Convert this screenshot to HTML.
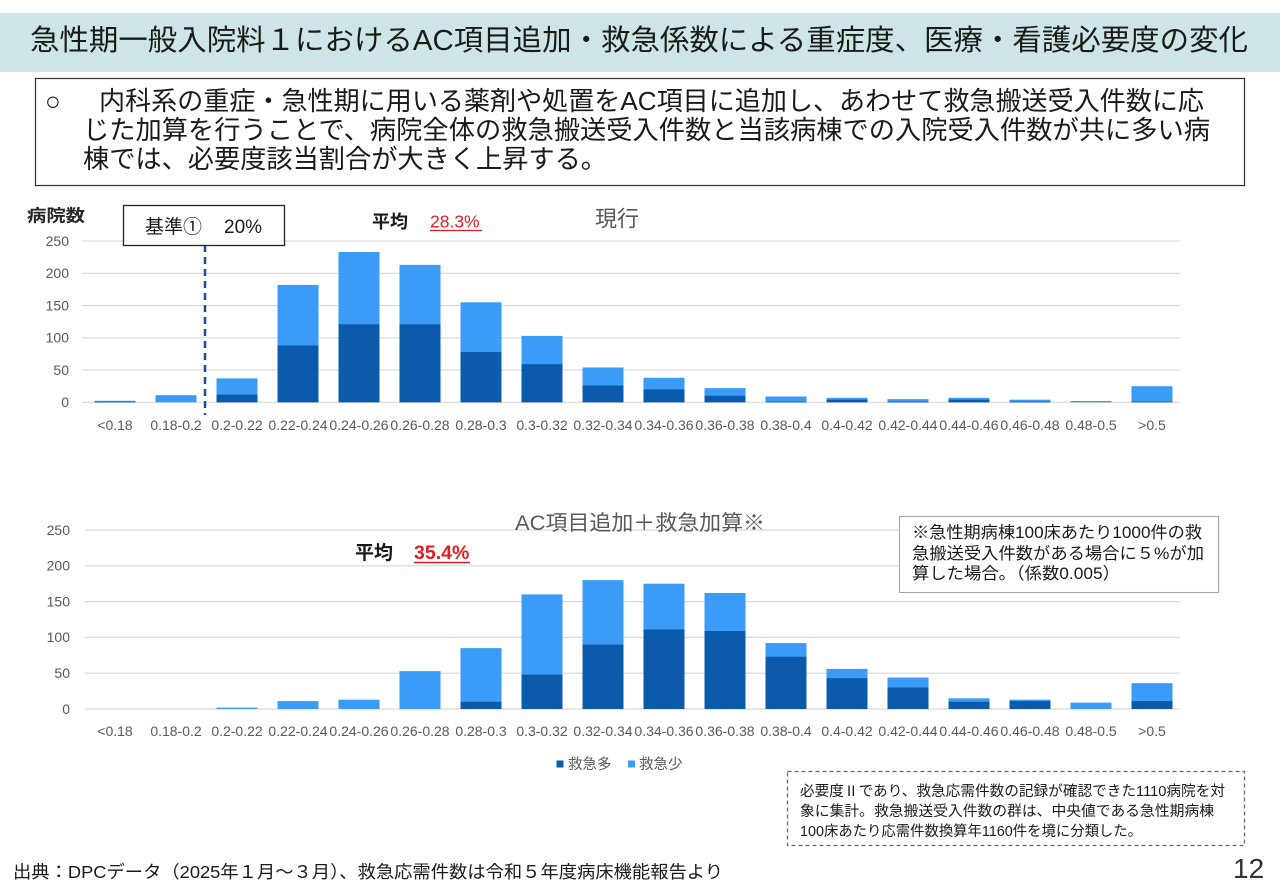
<!DOCTYPE html>
<html>
<head>
<meta charset="utf-8">
<style>
html,body{margin:0;padding:0;background:#fff;}
body{width:1280px;height:894px;overflow:hidden;}
svg{display:block;}
.jp{font-family:"Liberation Sans","Noto Sans CJK JP",sans-serif;}
.ax{font-family:"Liberation Sans","Noto Sans CJK JP",sans-serif;font-size:14px;fill:#595959;}
</style>
</head>
<body>
<svg width="1280" height="894" viewBox="0 0 1280 894" xmlns="http://www.w3.org/2000/svg">
  <!-- title band -->
  <rect x="0" y="13" width="1280" height="59" fill="#cde5e6"/>
  <text class="jp" x="30" y="50" font-size="29" fill="#1a1a1a" textLength="1218" lengthAdjust="spacingAndGlyphs">急性期一般入院料１におけるAC項目追加・救急係数による重症度、医療・看護必要度の変化</text>

  <!-- summary box -->
  <rect x="35.5" y="78.5" width="1209" height="107" fill="#fff" stroke="#333" stroke-width="1.2"/>
  <text class="jp" x="45" y="110" font-size="26" fill="#1a1a1a">○</text>
  <text class="jp" x="99" y="110" font-size="26" fill="#1a1a1a" textLength="1105" lengthAdjust="spacingAndGlyphs">内科系の重症・急性期に用いる薬剤や処置をAC項目に追加し、あわせて救急搬送受入件数に応</text>
  <text class="jp" x="83" y="139" font-size="26" fill="#1a1a1a" textLength="1127" lengthAdjust="spacingAndGlyphs">じた加算を行うことで、病院全体の救急搬送受入件数と当該病棟での入院受入件数が共に多い病</text>
  <text class="jp" x="83" y="168" font-size="26" fill="#1a1a1a" textLength="524" lengthAdjust="spacingAndGlyphs">棟では、必要度該当割合が大きく上昇する。</text>

  <!-- ===== TOP CHART ===== -->
  <g stroke="#d9d9d9" stroke-width="1.2">
    <line x1="82" y1="241.05" x2="1180" y2="241.05"/>
    <line x1="82" y1="273.3" x2="1180" y2="273.3"/>
    <line x1="82" y1="305.55" x2="1180" y2="305.55"/>
    <line x1="82" y1="337.8" x2="1180" y2="337.8"/>
    <line x1="82" y1="370.05" x2="1180" y2="370.05"/>
    <line x1="82" y1="402.3" x2="1180" y2="402.3"/>
  </g>
  <g class="ax" text-anchor="end">
    <text x="69" y="246">250</text>
    <text x="69" y="278">200</text>
    <text x="69" y="310.5">150</text>
    <text x="69" y="342.7">100</text>
    <text x="69" y="375">50</text>
    <text x="69" y="407.2">0</text>
  </g>
  <g transform="translate(0,402.3) scale(1,-1)">
    <g fill="#3b9cf7">
      <rect x="94.5" y="0" width="41" height="1.5"/>
      <rect x="155.5" y="0" width="41" height="7.1"/>
      <rect x="216.5" y="0" width="41" height="23.9"/>
      <rect x="277.5" y="0" width="41" height="117.4"/>
      <rect x="338.5" y="0" width="41" height="150.3"/>
      <rect x="399.5" y="0" width="41" height="137.4"/>
      <rect x="460.5" y="0" width="41" height="100.0"/>
      <rect x="521.5" y="0" width="41" height="66.4"/>
      <rect x="582.5" y="0" width="41" height="34.8"/>
      <rect x="643.5" y="0" width="41" height="24.5"/>
      <rect x="704.5" y="0" width="41" height="14.2"/>
      <rect x="765.5" y="0" width="41" height="5.8"/>
      <rect x="826.5" y="0" width="41" height="4.5"/>
      <rect x="887.5" y="0" width="41" height="3.2"/>
      <rect x="948.5" y="0" width="41" height="4.5"/>
      <rect x="1009.5" y="0" width="41" height="2.6"/>
      <rect x="1070.5" y="0" width="41" height="1.3"/>
      <rect x="1131.5" y="0" width="41" height="16.1"/>
    </g>
    <g fill="#0b5aab">
      <rect x="94.5" y="0" width="41" height="0.7"/>
      <rect x="216.5" y="0" width="41" height="7.7"/>
      <rect x="277.5" y="0" width="41" height="56.8"/>
      <rect x="338.5" y="0" width="41" height="78.0"/>
      <rect x="399.5" y="0" width="41" height="78.0"/>
      <rect x="460.5" y="0" width="41" height="50.3"/>
      <rect x="521.5" y="0" width="41" height="38.1"/>
      <rect x="582.5" y="0" width="41" height="16.8"/>
      <rect x="643.5" y="0" width="41" height="12.9"/>
      <rect x="704.5" y="0" width="41" height="6.5"/>
      <rect x="765.5" y="0" width="41" height="0.7"/>
      <rect x="826.5" y="0" width="41" height="2.6"/>
      <rect x="887.5" y="0" width="41" height="0.7"/>
      <rect x="948.5" y="0" width="41" height="2.6"/>
      <rect x="1009.5" y="0" width="41" height="0.7"/>
      <rect x="1131.5" y="0" width="41" height="0.7"/>
    </g>
  </g>
  <g class="ax" text-anchor="middle">
    <text x="115" y="430">&lt;0.18</text>
    <text x="176" y="430">0.18-0.2</text>
    <text x="237" y="430">0.2-0.22</text>
    <text x="298" y="430">0.22-0.24</text>
    <text x="359" y="430">0.24-0.26</text>
    <text x="420" y="430">0.26-0.28</text>
    <text x="481" y="430">0.28-0.3</text>
    <text x="542" y="430">0.3-0.32</text>
    <text x="603" y="430">0.32-0.34</text>
    <text x="664" y="430">0.34-0.36</text>
    <text x="725" y="430">0.36-0.38</text>
    <text x="786" y="430">0.38-0.4</text>
    <text x="847" y="430">0.4-0.42</text>
    <text x="908" y="430">0.42-0.44</text>
    <text x="969" y="430">0.44-0.46</text>
    <text x="1030" y="430">0.46-0.48</text>
    <text x="1091" y="430">0.48-0.5</text>
    <text x="1152" y="430">&gt;0.5</text>
  </g>
  <!-- dashed reference line -->
  <line x1="205" y1="245" x2="205" y2="415" stroke="#1f4e8c" stroke-width="2.5" stroke-dasharray="7,5"/>
  <!-- 基準 box -->
  <rect x="123.5" y="205.5" width="161" height="40" fill="#fff" stroke="#222" stroke-width="1.3"/>
  <text class="jp" x="145" y="233" font-size="19" fill="#1a1a1a">基準①</text>
  <text x="224" y="233" font-size="19" fill="#1a1a1a" font-family="Liberation Sans, sans-serif">20%</text>
  <!-- axis title -->
  <text class="jp" x="27" y="221.5" font-size="17" font-weight="bold" fill="#262626" textLength="58" lengthAdjust="spacingAndGlyphs">病院数</text>
  <!-- 平均 top -->
  <text class="jp" x="372" y="228" font-size="18" font-weight="bold" fill="#1a1a1a">平均</text>
  <text x="430" y="227.5" font-size="17.5" fill="#e31b23" font-family="Liberation Sans, sans-serif">28.3%</text>
  <line x1="430" y1="230.5" x2="482" y2="230.5" stroke="#e31b23" stroke-width="1.2"/>
  <!-- 現行 -->
  <text class="jp" x="595" y="226.5" font-size="22" fill="#595959">現行</text>

  <!-- ===== BOTTOM CHART ===== -->
  <g stroke="#d9d9d9" stroke-width="1.2">
    <line x1="85" y1="530" x2="1180" y2="530"/>
    <line x1="85" y1="565.8" x2="1180" y2="565.8"/>
    <line x1="85" y1="601.6" x2="1180" y2="601.6"/>
    <line x1="85" y1="637.4" x2="1180" y2="637.4"/>
    <line x1="85" y1="673.2" x2="1180" y2="673.2"/>
    <line x1="85" y1="709" x2="1180" y2="709"/>
  </g>
  <g class="ax" text-anchor="end">
    <text x="70" y="534.8">250</text>
    <text x="70" y="570.6">200</text>
    <text x="70" y="606.4">150</text>
    <text x="70" y="642.2">100</text>
    <text x="70" y="678">50</text>
    <text x="70" y="713.8">0</text>
  </g>
  <g transform="translate(0,709) scale(1,-1)">
    <g fill="#3b9cf7">
      <rect x="216.5" y="0" width="41" height="1.4"/>
      <rect x="277.5" y="0" width="41" height="7.9"/>
      <rect x="338.5" y="0" width="41" height="9.3"/>
      <rect x="399.5" y="0" width="41" height="37.9"/>
      <rect x="460.5" y="0" width="41" height="60.9"/>
      <rect x="521.5" y="0" width="41" height="114.6"/>
      <rect x="582.5" y="0" width="41" height="128.9"/>
      <rect x="643.5" y="0" width="41" height="125.3"/>
      <rect x="704.5" y="0" width="41" height="116.0"/>
      <rect x="765.5" y="0" width="41" height="65.9"/>
      <rect x="826.5" y="0" width="41" height="40.1"/>
      <rect x="887.5" y="0" width="41" height="31.5"/>
      <rect x="948.5" y="0" width="41" height="10.7"/>
      <rect x="1009.5" y="0" width="41" height="9.3"/>
      <rect x="1070.5" y="0" width="41" height="6.4"/>
      <rect x="1131.5" y="0" width="41" height="25.8"/>
    </g>
    <g fill="#0b5aab">
      <rect x="460.5" y="0" width="41" height="7.2"/>
      <rect x="521.5" y="0" width="41" height="34.4"/>
      <rect x="582.5" y="0" width="41" height="64.4"/>
      <rect x="643.5" y="0" width="41" height="79.5"/>
      <rect x="704.5" y="0" width="41" height="78.0"/>
      <rect x="765.5" y="0" width="41" height="52.3"/>
      <rect x="826.5" y="0" width="41" height="30.8"/>
      <rect x="887.5" y="0" width="41" height="21.5"/>
      <rect x="948.5" y="0" width="41" height="7.2"/>
      <rect x="1009.5" y="0" width="41" height="7.9"/>
      <rect x="1131.5" y="0" width="41" height="7.9"/>
    </g>
  </g>
  <g class="ax" text-anchor="middle">
    <text x="115" y="736">&lt;0.18</text>
    <text x="176" y="736">0.18-0.2</text>
    <text x="237" y="736">0.2-0.22</text>
    <text x="298" y="736">0.22-0.24</text>
    <text x="359" y="736">0.24-0.26</text>
    <text x="420" y="736">0.26-0.28</text>
    <text x="481" y="736">0.28-0.3</text>
    <text x="542" y="736">0.3-0.32</text>
    <text x="603" y="736">0.32-0.34</text>
    <text x="664" y="736">0.34-0.36</text>
    <text x="725" y="736">0.36-0.38</text>
    <text x="786" y="736">0.38-0.4</text>
    <text x="847" y="736">0.4-0.42</text>
    <text x="908" y="736">0.42-0.44</text>
    <text x="969" y="736">0.44-0.46</text>
    <text x="1030" y="736">0.46-0.48</text>
    <text x="1091" y="736">0.48-0.5</text>
    <text x="1152" y="736">&gt;0.5</text>
  </g>
  <!-- bottom title -->
  <text class="jp" x="515" y="530" font-size="21" fill="#595959" textLength="250" lengthAdjust="spacingAndGlyphs">AC項目追加＋救急加算※</text>
  <!-- 平均 bottom -->
  <text class="jp" x="355" y="559" font-size="19" font-weight="bold" fill="#1a1a1a">平均</text>
  <text x="414" y="559" font-size="19.5" font-weight="bold" fill="#e31b23" font-family="Liberation Sans, sans-serif">35.4%</text>
  <line x1="414" y1="562.5" x2="470" y2="562.5" stroke="#e31b23" stroke-width="1.6"/>
  <!-- annotation box -->
  <rect x="899.5" y="516.5" width="319" height="76" fill="#fff" stroke="#a6a6a6" stroke-width="1.1"/>
  <text class="jp" x="912" y="538" font-size="16.5" fill="#1a1a1a" textLength="290" lengthAdjust="spacingAndGlyphs">※急性期病棟100床あたり1000件の救</text>
  <text class="jp" x="912" y="559" font-size="16.5" fill="#1a1a1a" textLength="292" lengthAdjust="spacingAndGlyphs">急搬送受入件数がある場合に５%が加</text>
  <text class="jp" x="912" y="579" font-size="16.5" fill="#1a1a1a" textLength="208" lengthAdjust="spacingAndGlyphs">算した場合。（係数0.005）</text>

  <!-- legend -->
  <rect x="556.5" y="760.5" width="7" height="7" fill="#0b5aab"/>
  <text class="jp" x="568" y="769" font-size="14.5" fill="#595959">救急多</text>
  <rect x="628" y="760.5" width="7" height="7" fill="#3b9cf7"/>
  <text class="jp" x="639" y="769" font-size="14.5" fill="#595959">救急少</text>

  <!-- note dashed box -->
  <rect x="787.5" y="771.5" width="457" height="74" fill="#fff" stroke="#666" stroke-width="1.3" stroke-dasharray="4,3"/>
  <text class="jp" x="800" y="796" font-size="14.5" fill="#1a1a1a" textLength="425" lengthAdjust="spacingAndGlyphs">必要度Ⅱであり、救急応需件数の記録が確認できた1110病院を対</text>
  <text class="jp" x="800" y="816" font-size="14.5" fill="#1a1a1a" textLength="414" lengthAdjust="spacingAndGlyphs">象に集計。救急搬送受入件数の群は、中央値である急性期病棟</text>
  <text class="jp" x="800" y="836" font-size="14.5" fill="#1a1a1a" textLength="342" lengthAdjust="spacingAndGlyphs">100床あたり応需件数換算年1160件を境に分類した。</text>

  <!-- footer -->
  <text class="jp" x="13" y="878" font-size="17.5" fill="#1a1a1a" textLength="710" lengthAdjust="spacingAndGlyphs">出典：DPCデータ（2025年１月～３月）、救急応需件数は令和５年度病床機能報告より</text>
  <text x="1233" y="878" font-size="28" fill="#333" font-family="Liberation Sans, sans-serif">12</text>
</svg>
</body>
</html>
